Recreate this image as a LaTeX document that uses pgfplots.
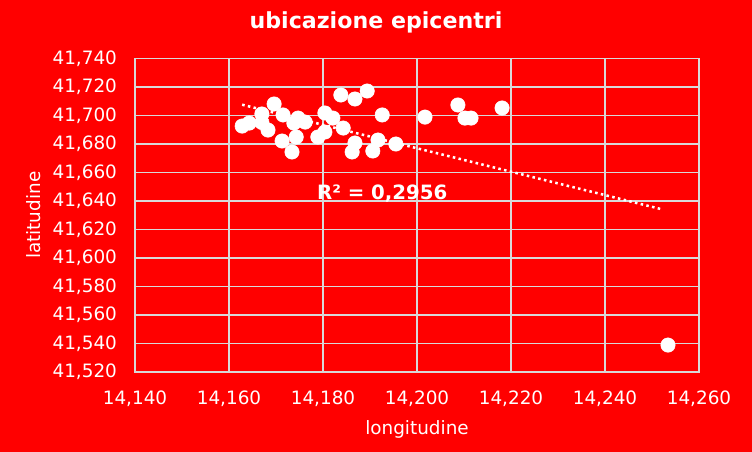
\documentclass[border=0pt]{standalone}
\usepackage{pgfplots}
\usepackage{pgfplotstable}
\pgfplotsset{compat=1.18}
\usepackage{fontspec}
\setmainfont{DejaVu Sans}
\definecolor{bg}{RGB}{255,0,0}
\definecolor{gridc}{RGB}{217,217,217}
\pgfplotstableread{
x y
14.1628 41.6926
14.1643 41.6947
14.1670 41.7011
14.1670 41.6951
14.1683 41.6898
14.1696 41.7081
14.1713 41.6821
14.1715 41.7004
14.1734 41.6744
14.1738 41.6947
14.1743 41.6849
14.1747 41.6982
14.1762 41.6954
14.1789 41.6849
14.1804 41.7018
14.1804 41.6884
14.1821 41.6982
14.1838 41.7144
14.1843 41.6912
14.1862 41.6744
14.1868 41.7116
14.1868 41.6807
14.1894 41.7172
14.1906 41.6751
14.1917 41.6828
14.1926 41.7004
14.1955 41.6800
14.2017 41.6989
14.2087 41.7074
14.2102 41.6982
14.2115 41.6982
14.2181 41.7053
14.2534 41.5389
}\datatable
\pgfplotstableread{
x y
14.1628 41.7076
14.2521 41.6342
}\trendtable
\begin{document}
\begin{tikzpicture}
\fill[bg] (0pt,0pt) rectangle (564pt,339pt);
\node[text=white,font=\fontsize{16.6pt}{19pt}\selectfont\bfseries] at (282pt,322pt) {ubicazione epicentri};
\begin{axis}[
  at={(101.25pt,60pt)}, anchor=south west,
  scale only axis, width=423pt, height=235.1pt,
  xmin=14.14, xmax=14.26, ymin=41.52, ymax=41.74,
  xtick distance=0.02, ytick distance=0.02,
  grid=major, major grid style={gridc, line width=0.8pt},
  axis line style={gridc, line width=0.8pt},
  tick style={draw=none},
  ticklabel style={text=white, font=\fontsize{13.8pt}{16pt}\selectfont},
  /pgf/number format/.cd, assume math mode=true, use comma, 1000 sep={}, fixed, precision=3, fixed zerofill,
  /pgfplots/.cd,
  xticklabel style={yshift=-10.5pt},
  yticklabel style={xshift=-10pt},
  xlabel={longitudine}, ylabel={latitudine},
  label style={text=white, font=\fontsize{13.8pt}{16pt}\selectfont},
  xlabel style={yshift=-4pt},
  ylabel style={yshift=2pt},
  clip=false,
]
\addplot[white, line width=1.9pt, dash pattern=on 1.9pt off 2.5pt, no marks]
  table[x=x, y=y] {\trendtable};
\addplot[only marks, mark=*, mark size=5.4pt, mark options={fill=white, draw=white}]
  table[x=x, y=y] {\datatable};
\node[text=white, font=\fontsize{14.8pt}{17pt}\selectfont\bfseries] at (axis cs:14.1926,41.6449) {R² = 0,2956};
\end{axis}
\end{tikzpicture}
\end{document}
